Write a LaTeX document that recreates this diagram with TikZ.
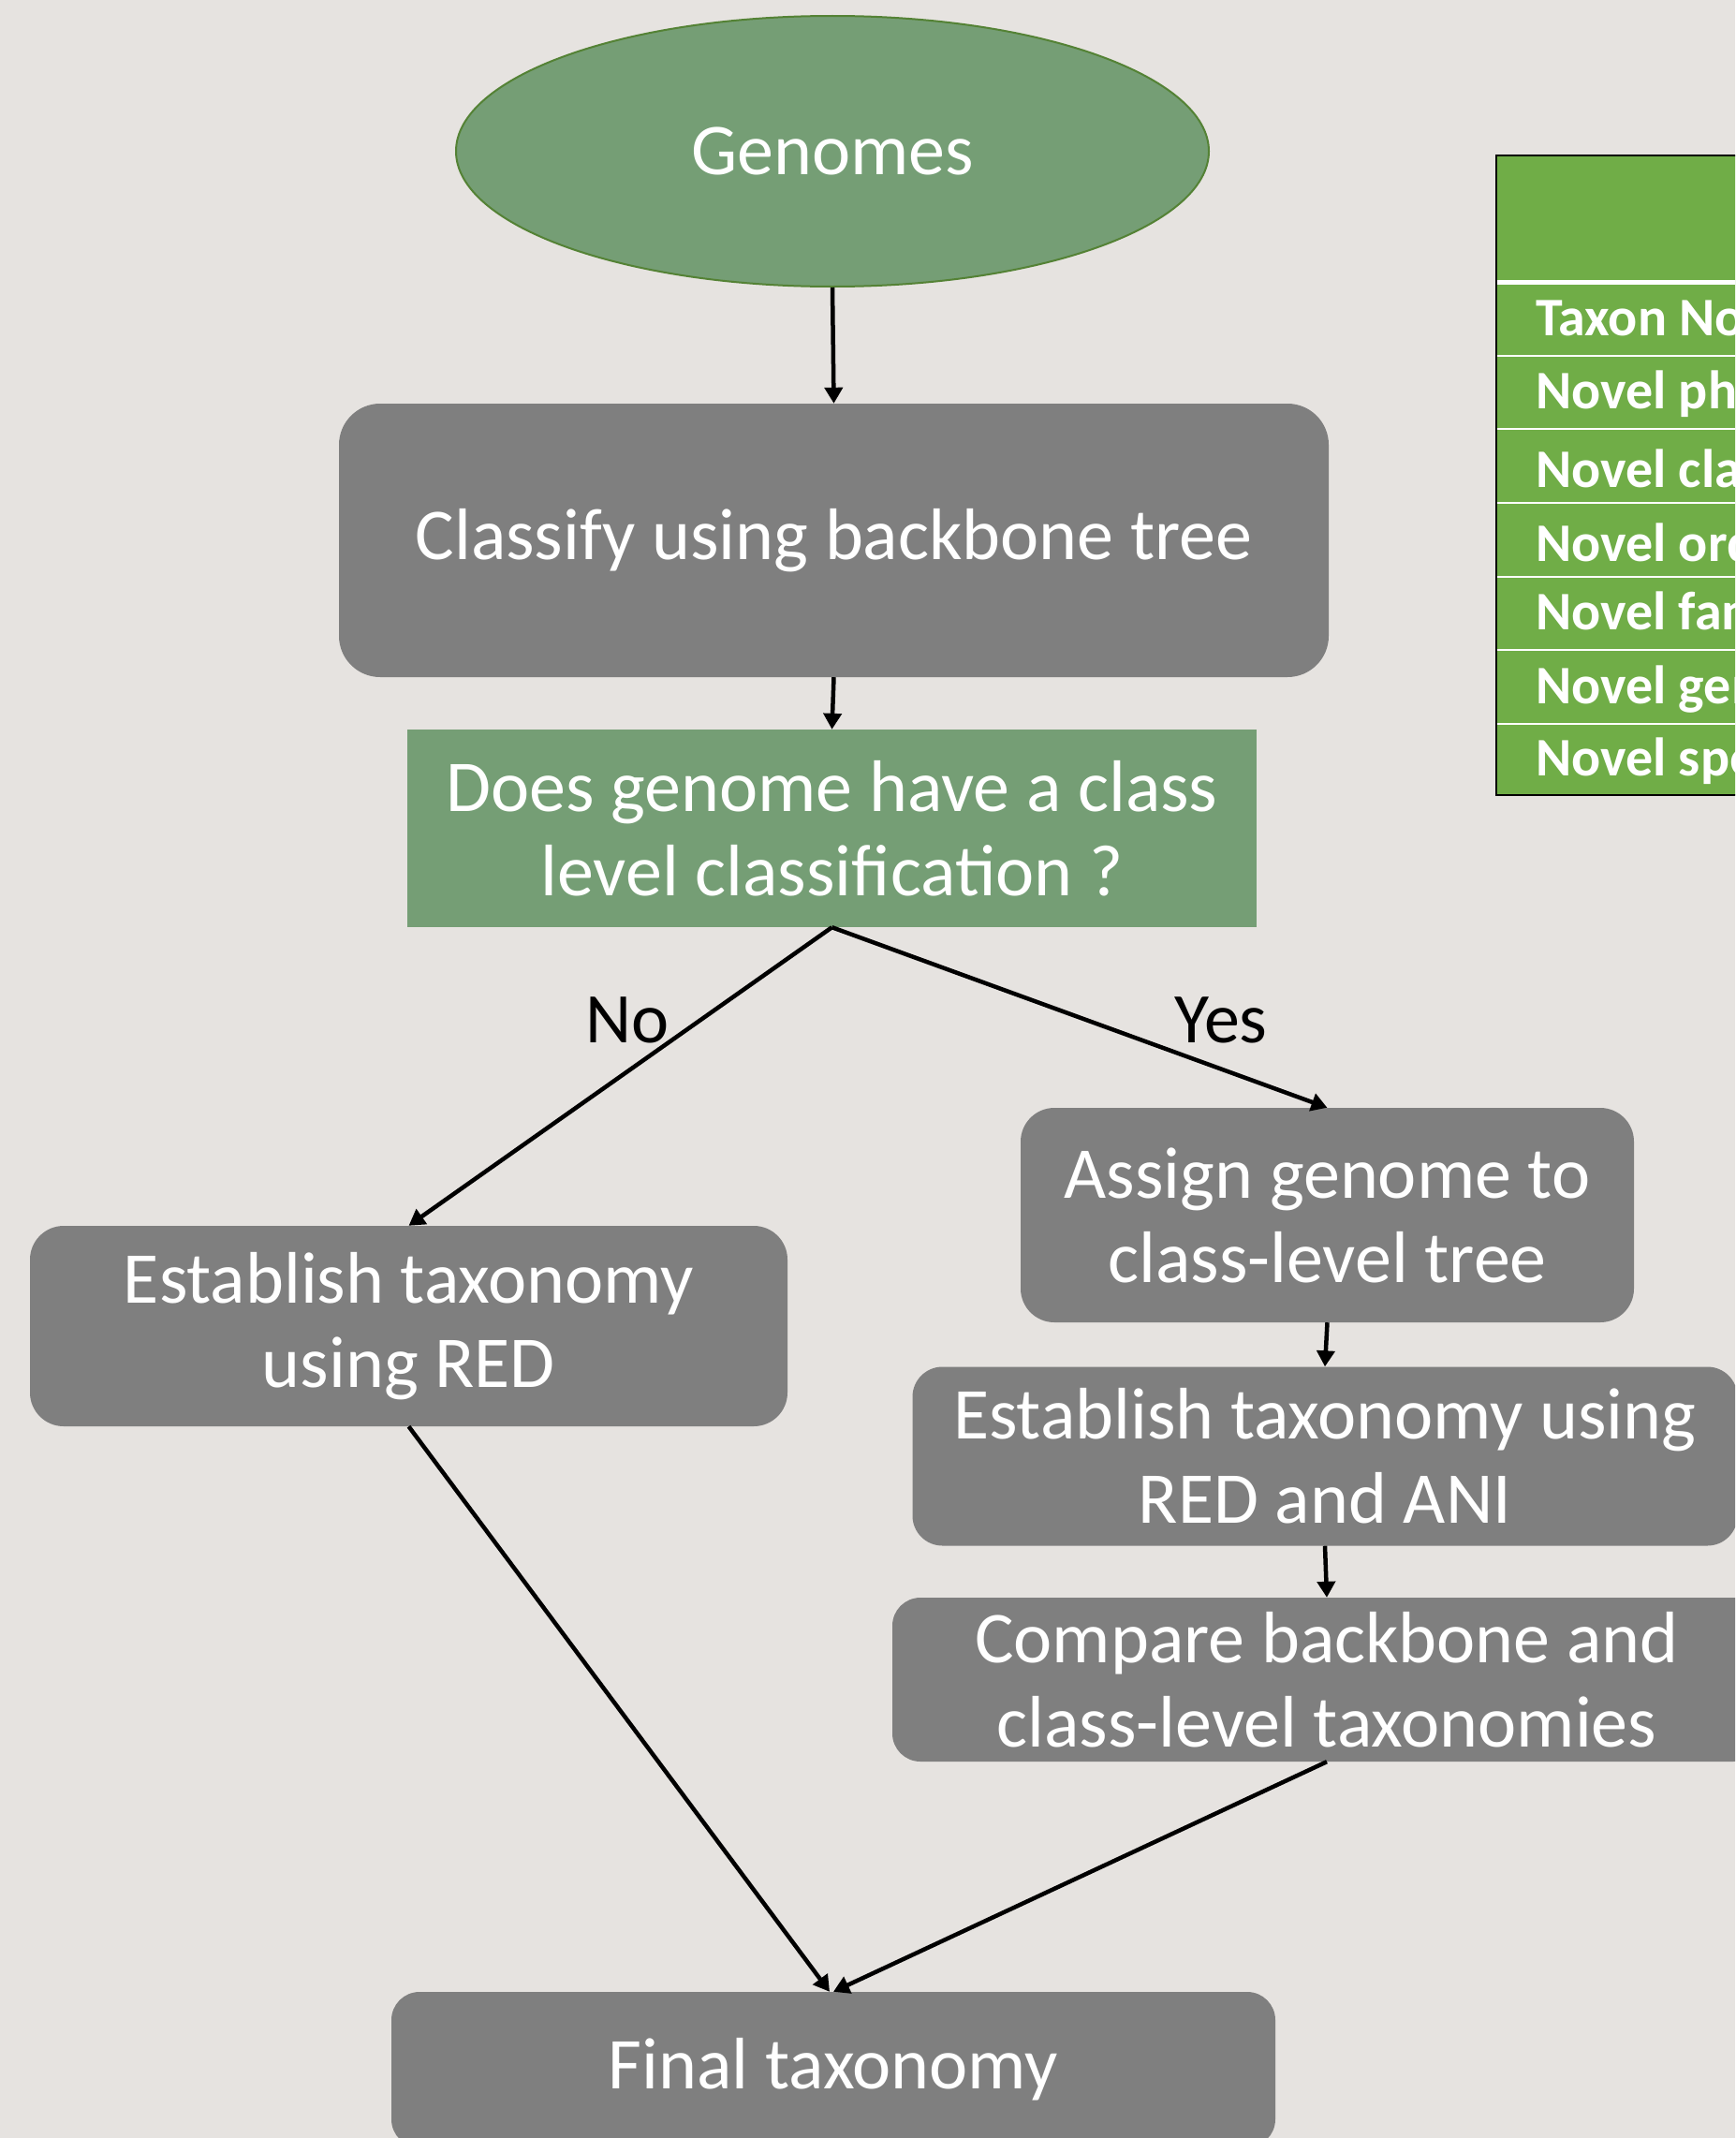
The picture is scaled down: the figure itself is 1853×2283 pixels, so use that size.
\documentclass[tikz,border=0pt]{standalone}
\usepackage{fontspec}
\setmainfont{Carlito}
\usetikzlibrary{arrows.meta,shapes.geometric}
\definecolor{bgc}{HTML}{E6E3E0}
\definecolor{boxgray}{HTML}{7F7F7F}
\definecolor{dgreen}{HTML}{759E75}
\definecolor{egreen}{HTML}{548235}
\definecolor{tgreen}{HTML}{70AD47}
\tikzset{
  mainfont/.style={font=\fontsize{78}{90}\selectfont, text=white, align=center},
  graybox/.style={mainfont, fill=boxgray, rounded corners=36pt, inner sep=0pt},
  greenbox/.style={mainfont, fill=dgreen, inner sep=0pt},
  conn/.style={line width=4.5pt, -{Triangle[length=17pt,width=19pt]}},
  lbl/.style={font=\fontsize{76}{90}\selectfont, text=black},
  rowtext/.style={font=\fontsize{58}{66}\selectfont\bfseries, text=white, anchor=west, inner sep=0pt},
}
\begin{document}
\begin{tikzpicture}[x=1pt,y=-1pt]
\fill[bgc] (0,0) rectangle (1853,2283);
\useasboundingbox (0,0) rectangle (1853,2283);
\clip (0,0) rectangle (1853,2283);

% table
\draw[fill=tgreen, draw=black, line width=2pt] (1598,166) rectangle (1900,849);
\draw[white, line width=5pt] (1599,301) -- (1900,301);
\foreach \yy in {380,458,537,616,694,773} {
  \draw[white, line width=2pt] (1599,\yy) -- (1900,\yy);
}
\node[rowtext] (r1) at (1640,343) {Taxon Novelty};
\node[rowtext] (r2) at (1640,421) {Novel phylum};
\node[rowtext] (r3) at (1640,500) {Novel class};
\node[rowtext] (r4) at (1640,579) {Novel order};
\node[rowtext] (r5) at (1640,657) {Novel family};
\node[rowtext] (r6) at (1640,736) {Novel genus};
\node[rowtext] (r7) at (1640,813) {Novel species};

% nodes
\node[ellipse, mainfont, fill=dgreen, draw=egreen, line width=2pt,
      minimum width=804pt, minimum height=289pt, inner sep=0pt] (gen) at (889,161.5) {Genomes};
\node[graybox, rounded corners=44pt, minimum width=1057pt, minimum height=292pt] (cls) at (890.5,577) {\raisebox{-8pt}{Classify using backbone tree}};
\node[greenbox, minimum width=907pt, minimum height=211pt] (dec) at (888.5,884.5) {Does genome have a class\\level classification ?};
\node[graybox, minimum width=809pt, minimum height=214pt] (red) at (436.5,1416) {Establish taxonomy\\using RED};
\node[graybox, minimum width=655pt, minimum height=229pt] (asg) at (1417.5,1297.5) {Assign genome to\\class-level tree};
\node[graybox, rounded corners=32pt, minimum width=881pt, minimum height=191pt] (ani) at (1415,1555) {Establish taxonomy using\\RED and ANI};
\node[graybox, rounded corners=30pt, minimum width=928pt, minimum height=175pt] (cmp) at (1417,1793.5) {Compare backbone and\\class-level taxonomies};
\node[graybox, rounded corners=30pt, minimum width=944pt, minimum height=166pt] (fin) at (890,2210) {\raisebox{-4pt}{Final taxonomy}};

% connectors
\draw[conn] (gen.south) -- (cls.north);
\draw[conn] (cls.south) -- (dec.north);
\draw[conn] (dec.south) -- (red.north);
\draw[conn] (dec.south) -- (asg.north);
\draw[conn] (asg.south) -- (ani.north);
\draw[conn] (ani.south) -- (cmp.north);
\draw[conn] (red.south) -- ([xshift=-4pt]fin.north);
\draw[conn] (cmp.south) -- (fin.north);

\node[lbl] (no) at (670,1089) {No};
\node[lbl] (yes) at (1304,1089) {Yes};
\end{tikzpicture}
\end{document}
